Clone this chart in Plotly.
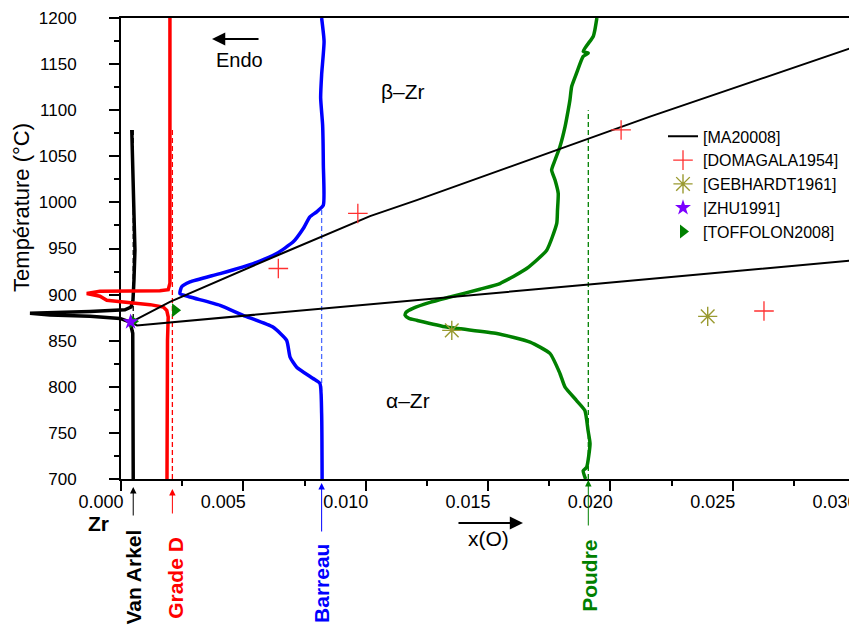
import plotly.graph_objects as go

# ---------------- data ----------------
# DSC curves (x(O), temperature °C)
van_arkel_x = [0.00044, 0.00050, 0.00057, 0.00053, 0.00049, 0.00041, 0.00016, -0.00127, -0.0029, -0.00372,
               -0.0029, -0.00127, -0.00004, 0.00037, 0.00048, 0.00050, 0.00050]
van_arkel_y = [1078.6, 1002.5, 948.2, 915.8, 894.0, 886.5, 883.5, 881.8, 880.8, 879.7,
               878.0, 876.4, 874.2, 870.2, 858.0, 785.0, 700.0]

grade_d_x = [0.0020, 0.0020, 0.00193, 0.00159, -0.00086, -0.0014, -0.00086, -0.00058, 0.00049, 0.00119,
             0.00173, 0.00187, 0.00193, 0.0019, 0.00188]
grade_d_y = [1200, 912.3, 905.4, 904.3, 903.6, 901.1, 898.2, 893.8, 890.9, 889.1,
             886.5, 882.9, 875.7, 850.3, 700]

barreau_x = [0.0082, 0.0083, 0.0082, 0.00816, 0.00824, 0.00827, 0.00827, 0.0080, 0.00772, 0.00745,
             0.00704, 0.00636, 0.00541, 0.00405, 0.00282, 0.00248, 0.00241, 0.00282, 0.00405, 0.00499,
             0.00621, 0.00677, 0.00691, 0.00718, 0.00785, 0.00813, 0.0082, 0.00822]
barreau_y = [1200, 1174.6, 1138.4, 1113.4, 1084, 1040.5, 997, 989.8, 984.3, 971.7,
             957.2, 944.6, 933.7, 922.8, 913.7, 908.5, 901.0, 897.4, 888.4, 877.5,
             864.8, 850.3, 832.2, 821.3, 809.0, 803.6, 771, 700]

poudre_x = [0.01945, 0.01937, 0.01930, 0.01889, 0.01910, 0.01889, 0.01862, 0.01842, 0.01835, 0.01828,
            0.01815, 0.01794, 0.01774, 0.0176, 0.01774, 0.01787, 0.01784, 0.01781, 0.0174, 0.01658,
            0.01549, 0.01467, 0.01345, 0.01263, 0.01193, 0.01165, 0.01161, 0.01177, 0.01209, 0.01331,
            0.01536, 0.01672, 0.01753, 0.01794, 0.01815, 0.01862, 0.01896, 0.01909, 0.01917, 0.01903,
            0.01889, 0.01899]
poudre_y = [1200, 1187.3, 1180, 1163.7, 1162, 1158.3, 1140.2, 1125.7, 1111.2, 1100.3,
            1082.2, 1060.4, 1046, 1035.1, 1024.2, 1009.8, 991.6, 977.2, 948.2, 928.3,
            912, 905.8, 897.4, 891.6, 885.1, 880.8, 877.5, 874.2, 872.1, 864.8,
            857.9, 848.5, 836.2, 814.5, 799.6, 785.1, 774.2, 752.5, 738.4, 712.6,
            709.1, 700]

# Phase boundaries [MA20008]
beta_transus_x = [0.00041, 0.0020, 0.0065, 0.01018, 0.01209, 0.01781, 0.02162, 0.030]
beta_transus_y = [870.2, 892.2, 943.8, 985.1, 1002.5, 1056.8, 1093.0, 1168.8]
alpha_transus_x = [0.00041, 0.00065, 0.01958, 0.030]
alpha_transus_y = [870.2, 866.6, 912.0, 937.3]

# Literature points
domagala_x = [0.00643, 0.00968, 0.02044, 0.02628]
domagala_y = [928.3, 988.0, 1078.6, 882.2]
gebhardt_x = [0.01352, 0.02398]
gebhardt_y = [861.2, 876.4]
zhu_x = [0.00039]
zhu_y = [870.4]
toffolon_x = [0.00049, 0.00221]
toffolon_y = [871.0, 883.0]

# Samples (nominal oxygen content, top of dashed marker line)
sample_names = ["Van Arkel", "Grade D", "Barreau", "Poudre"]
sample_xo = [0.0005, 0.0021, 0.0082, 0.0191]
sample_tmax = [1080, 1080, 995, 1100]

x_tickvals = [0.000, 0.005, 0.010, 0.015, 0.020, 0.025, 0.030]
x_ticktext = ["0.000", "0.005", "0.010", "0.015", "0.020", "0.025", "0.030"]
y_tickvals = [700, 750, 800, 850, 900, 950, 1000, 1050, 1100, 1150, 1200]

# ---------------- figure ----------------
FONT = "Liberation Sans, Arial, sans-serif"
# the page body has an 8 px default margin, so the figure is 8 px smaller
W, H = 849, 621
ML, MR, MT, MB = 12, 2, 10, 150
plot_w = W - ML - MR
x0_px = 113
d = (x0_px - ML) / plot_w
x2_left = -0.030 * d / (1 - d)

sample_colors = ["black", "red", "#0000ff", "#008000"]
dash_colors = ["black", "red", "#4d6bff", "#008000"]

fig = go.Figure()

for xo, tmax, c in zip(sample_xo, sample_tmax, dash_colors):
    fig.add_trace(go.Scatter(x=[xo, xo], y=[700, tmax], mode="lines",
                             line=dict(color=c, width=1.3, dash="5px,3px"),
                             showlegend=False, hoverinfo="skip"))

curves = [(van_arkel_x, van_arkel_y, "black", "linear"),
          (grade_d_x, grade_d_y, "red", "linear"),
          (barreau_x, barreau_y, "#0000ff", "spline"),
          (poudre_x, poudre_y, "#008000", "spline")]
for xs, ys, c, shp in curves:
    fig.add_trace(go.Scatter(x=xs, y=ys, mode="lines", xaxis="x2", yaxis="y",
                             line=dict(color=c, width=3.5, shape=shp, smoothing=0.5),
                             showlegend=False, hoverinfo="skip"))

fig.add_trace(go.Scatter(x=beta_transus_x + [None] + alpha_transus_x,
                         y=beta_transus_y + [None] + alpha_transus_y,
                         mode="lines", xaxis="x2", yaxis="y", connectgaps=False,
                         line=dict(color="black", width=2), name="[MA20008]", legendrank=1))

fig.add_trace(go.Scatter(x=domagala_x, y=domagala_y, mode="markers", xaxis="x2", yaxis="y",
                         marker=dict(symbol="cross-thin", size=14, color="#ff3030",
                                     line=dict(color="#ff3030", width=1.3)),
                         name="[DOMAGALA1954]", legendrank=2))
fig.add_trace(go.Scatter(x=gebhardt_x, y=gebhardt_y, mode="markers", xaxis="x2", yaxis="y",
                         marker=dict(symbol="asterisk-open", size=16, color="#9a9a30",
                                     line=dict(color="#9a9a30", width=1.4)),
                         name="[GEBHARDT1961]", legendrank=3))
fig.add_trace(go.Scatter(x=toffolon_x, y=toffolon_y, mode="markers", xaxis="x2", yaxis="y",
                         marker=dict(symbol="triangle-right", size=12, color="#008000"),
                         name="[TOFFOLON2008]", legendrank=5))
fig.add_trace(go.Scatter(x=zhu_x, y=zhu_y, mode="markers", xaxis="x2", yaxis="y",
                         marker=dict(symbol="star", size=12, color="#7b00ff"),
                         name="|ZHU1991]", legendrank=4))

ann = []
label_ypos = [-0.2133, -0.2137, -0.2274, -0.21]
label_dx = [0.0, 0.00012, 0.00002, 0.00007]
arrow_ay = [38, 36, 54, 48]
arrow_standoff = [8, 10, 4, 1]
for name, xo, c, ly, dx, ay, so in zip(sample_names, sample_xo, sample_colors,
                                       label_ypos, label_dx, arrow_ay, arrow_standoff):
    ann.append(dict(x=xo, y=0, xref="x", yref="paper", text="", showarrow=True,
                    ax=0, ay=ay, arrowhead=2, arrowsize=1.3, arrowwidth=1,
                    arrowcolor=c, standoff=so))
    ann.append(dict(x=xo + dx, y=ly, xref="x", yref="paper", text="<b>%s</b>" % name,
                    showarrow=False, textangle=-90, xanchor="center", yanchor="middle",
                    font=dict(family=FONT, size=21, color=c)))

ann += [
    dict(x=0.00372, y=1177.2, xref="x", yref="y", text="", showarrow=True, ax=48, ay=0,
         arrowhead=2, arrowsize=1.2, arrowwidth=2.2, arrowcolor="black"),
    dict(x=0.00486, y=1154.7, xref="x", yref="y", text="Endo", showarrow=False,
         xanchor="center", yanchor="middle", font=dict(family=FONT, size=20, color="black")),
    dict(x=0.01153, y=1119.8, xref="x", yref="y", text="β–Zr", showarrow=False,
         xanchor="center", yanchor="middle", font=dict(family=FONT, size=21, color="black")),
    dict(x=0.01173, y=785, xref="x", yref="y", text="α–Zr", showarrow=False,
         xanchor="center", yanchor="middle", font=dict(family=FONT, size=21, color="black")),
    dict(x=0.01643, y=-0.0954, xref="x", yref="paper", text="", showarrow=True, ax=-66, ay=0,
         arrowhead=2, arrowsize=1.2, arrowwidth=2.2, arrowcolor="black"),
    dict(x=0.015, y=-0.128, xref="x", yref="paper", text="x(O)", showarrow=False,
         xanchor="center", yanchor="middle", font=dict(family=FONT, size=21, color="black")),
    dict(x=(98 - 8 - ML) / plot_w, y=-0.0976, xref="paper", yref="paper", text="<b>Zr</b>",
         showarrow=False, xanchor="center", yanchor="middle",
         font=dict(family=FONT, size=21, color="black")),
    dict(x=(22 - 8 - ML) / plot_w, y=0.588, xref="paper", yref="paper", text="Température (°C)",
         showarrow=False, textangle=-90, xanchor="center", yanchor="middle",
         font=dict(family=FONT, size=22, color="black")),
]

fig.update_layout(
    width=W, height=H,
    margin=dict(l=ML, r=MR, t=MT, b=MB, autoexpand=False),
    paper_bgcolor="white", plot_bgcolor="rgba(0,0,0,0)",
    font=dict(family=FONT, color="black"),
    showlegend=True,
    legend=dict(x=(663 - 8 - ML) / plot_w, y=0.780, xanchor="left", yanchor="top",
                bgcolor="rgba(0,0,0,0)", font=dict(family=FONT, size=16), tracegroupgap=0),
    xaxis=dict(domain=[d, 1], range=[0, 0.030], anchor="y",
               tickmode="array", tickvals=x_tickvals, ticktext=x_ticktext,
               ticks="outside", ticklen=10, tickwidth=2, tickcolor="black",
               showline=True, linewidth=2, linecolor="black", mirror=True,
               showgrid=False, zeroline=False, tickfont=dict(size=18),
               ticklabelshift=-20, ticklabelstandoff=-5, ticklabeloverflow="allow",
               minor=dict(tick0=0, dtick=0.0025, ticks="outside", ticklen=5, tickwidth=2,
                          tickcolor="black", showgrid=False)),
    xaxis2=dict(domain=[0, 1], range=[x2_left, 0.030], anchor="y", visible=False,
                showgrid=False, zeroline=False),
    yaxis=dict(range=[700, 1200], anchor="x", tickmode="array", tickvals=y_tickvals,
               ticks="outside", ticklen=10, tickwidth=2, tickcolor="black",
               showline=True, linewidth=2, linecolor="black", mirror=True,
               showgrid=False, zeroline=False, tickfont=dict(size=17), ticklabelstandoff=29,
               minor=dict(tick0=700, dtick=25, ticks="outside", ticklen=5, tickwidth=2,
                          tickcolor="black", showgrid=False)),
    annotations=ann,
)

fig.write_html("out.html")
